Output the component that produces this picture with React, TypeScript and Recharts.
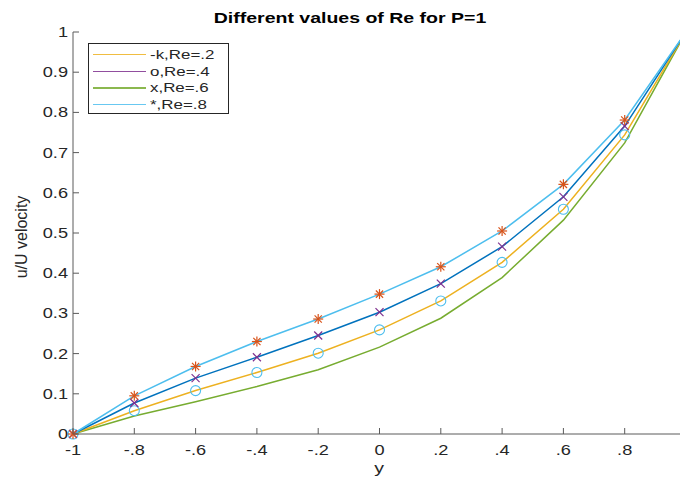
import React from 'react';
import { LineChart, Line, XAxis, YAxis } from 'recharts';

// ── data ────────────────────────────────────────────────────────────────────
const yPos = [-1, -0.8, -0.6, -0.4, -0.2, 0, 0.2, 0.4, 0.6, 0.8, 1];
const re02 = [0, 0.058, 0.108, 0.153, 0.201, 0.259, 0.331, 0.427, 0.559, 0.744, 1];
const re04 = [0, 0.077, 0.139, 0.191, 0.245, 0.303, 0.374, 0.466, 0.59, 0.766, 1];
const re06 = [0, 0.045, 0.08, 0.118, 0.16, 0.216, 0.288, 0.389, 0.532, 0.724, 1];
const re08 = [0, 0.095, 0.168, 0.23, 0.286, 0.348, 0.416, 0.505, 0.621, 0.781, 1];

const xTicks = [-1, -0.8, -0.6, -0.4, -0.2, 0, 0.2, 0.4, 0.6, 0.8, 1];
const yTicks = [0, 0.1, 0.2, 0.3, 0.4, 0.5, 0.6, 0.7, 0.8, 0.9, 1];
const legendLabels = ['-k,Re=.2', 'o,Re=.4', 'x,Re=.6', '*,Re=.8'];

// MATLAB default palette
const C = {
  blue: '#0072BD',
  orange: '#D95319',
  yellow: '#EDB120',
  purple: '#7E2F8E',
  green: '#77AC30',
  cyan: '#4DBEEE',
  axis: '#5a5a5a',
  text: '#262626',
};
const legendColors = [C.yellow, C.purple, C.green, C.cyan];

const data = yPos.map((y, i) => ({ y, re02: re02[i], re04: re04[i], re06: re06[i], re08: re08[i] }));

const STRETCH = 1.3; // the figure is stretched horizontally
const FONT = '"Liberation Sans", Arial, Helvetica, sans-serif';

function fmtX(v: number): string {
  if (v === 0) return '0';
  if (v === -1) return '-1';
  if (v === 1) return '';
  const s = v.toFixed(1);
  return s.replace('0.', '.');
}

function fmtY(v: number): string {
  if (v === 0) return '0';
  if (v === 1) return '1';
  return v.toFixed(1);
}

// ── inward ticks (MATLAB style) ─────────────────────────────────────────────
function BottomTick(props: any) {
  const { x, y, payload } = props;
  return (
    <g>
      <line x1={x} y1={y} x2={x} y2={y - 6} stroke={C.axis} strokeWidth={1} />
      <text
        transform={`translate(${x},${y + 21}) scale(${STRETCH},1)`}
        textAnchor="middle"
        fontSize={14}
        fontFamily={FONT}
        fill={C.text}
      >
        {fmtX(payload.value)}
      </text>
    </g>
  );
}

function LeftTick(props: any) {
  const { x, y, payload } = props;
  return (
    <g>
      <line x1={x} y1={y} x2={x + 6} y2={y} stroke={C.axis} strokeWidth={1} />
      <text
        transform={`translate(${x - 5},${y + 5}) scale(${STRETCH},1)`}
        textAnchor="end"
        fontSize={14}
        fontFamily={FONT}
        fill={C.text}
      >
        {fmtY(payload.value)}
      </text>
    </g>
  );
}

function TopTick(props: any) {
  const { x, y } = props;
  return <line x1={x} y1={y} x2={x} y2={y + 6} stroke={C.axis} strokeWidth={1} />;
}

function RightTick(props: any) {
  const { x, y } = props;
  return <line x1={x} y1={y} x2={x - 6} y2={y} stroke={C.axis} strokeWidth={1} />;
}

// ── markers ─────────────────────────────────────────────────────────────────
function StarDot(props: any) {
  const { cx, cy, index } = props;
  const r = 5;
  const d = r * 0.72;
  return (
    <g key={`s${index}`} stroke={C.orange} strokeWidth={1.2}>
      <line x1={cx - r} y1={cy} x2={cx + r} y2={cy} />
      <line x1={cx} y1={cy - r} x2={cx} y2={cy + r} />
      <line x1={cx - d} y1={cy - d} x2={cx + d} y2={cy + d} />
      <line x1={cx - d} y1={cy + d} x2={cx + d} y2={cy - d} />
    </g>
  );
}

function CrossDot(props: any) {
  const { cx, cy, index } = props;
  const d = 4;
  return (
    <g key={`x${index}`} stroke={C.purple} strokeWidth={1.2}>
      <line x1={cx - d} y1={cy - d} x2={cx + d} y2={cy + d} />
      <line x1={cx - d} y1={cy + d} x2={cx + d} y2={cy - d} />
    </g>
  );
}

function CircleDot(props: any) {
  const { cx, cy, index } = props;
  return <circle key={`o${index}`} cx={cx} cy={cy} r={5} fill="none" stroke={C.cyan} strokeWidth={1.1} />;
}

// ── legend box ──────────────────────────────────────────────────────────────
function LegendBox() {
  return (
    <div
      style={{
        position: 'absolute',
        left: 88,
        top: 43,
        width: 139,
        height: 69,
        border: `1px solid ${C.text}`,
        background: '#fff',
        fontFamily: FONT,
      }}
    >
      {legendLabels.map((lab, i) => (
        <div key={lab} style={{ position: 'absolute', left: 4, top: 2 + i * 16.7, height: 16, width: 134 }}>
          <div
            style={{
              position: 'absolute',
              left: 0,
              top: 8,
              width: 53,
              height: 1.2,
              background: legendColors[i],
              opacity: 0.85,
            }}
          />
          <div
            style={{
              position: 'absolute',
              left: 57,
              top: 0,
              fontSize: 13,
              lineHeight: '17px',
              color: C.text,
              transform: `scaleX(${STRETCH})`,
              transformOrigin: 'left center',
              whiteSpace: 'nowrap',
            }}
          >
            {lab}
          </div>
        </div>
      ))}
    </div>
  );
}

export default function App() {
  return (
    <div
      style={{
        position: 'absolute',
        left: 0,
        top: 0,
        width: 680,
        height: 479,
        overflow: 'hidden',
        background: '#fff',
        fontFamily: FONT,
      }}
    >
      <LineChart width={700} height={479} data={data} margin={{ top: 32, right: 14, bottom: 0, left: 0 }}>
        <XAxis
          dataKey="y"
          type="number"
          domain={[-1, 1]}
          ticks={xTicks}
          interval={0}
          height={45}
          tickSize={0}
          tickMargin={0}
          tickLine={false}
          tick={<BottomTick />}
          axisLine={{ stroke: C.axis, strokeWidth: 1 }}
        />
        <XAxis
          xAxisId="top"
          orientation="top"
          dataKey="y"
          type="number"
          domain={[-1, 1]}
          ticks={xTicks}
          interval={0}
          height={0}
          tickSize={0}
          tickMargin={0}
          tickLine={false}
          tick={<TopTick />}
          axisLine={{ stroke: C.axis, strokeWidth: 1 }}
        />
        <YAxis
          type="number"
          domain={[0, 1]}
          ticks={yTicks}
          interval={0}
          width={73}
          tickSize={0}
          tickMargin={0}
          tickLine={false}
          tick={<LeftTick />}
          axisLine={{ stroke: C.axis, strokeWidth: 1 }}
        />
        <YAxis
          yAxisId="right"
          orientation="right"
          type="number"
          domain={[0, 1]}
          ticks={yTicks}
          interval={0}
          width={0}
          tickSize={0}
          tickMargin={0}
          tickLine={false}
          tick={<RightTick />}
          axisLine={{ stroke: C.axis, strokeWidth: 1 }}
        />
        <Line dataKey="re06" stroke={C.green} strokeWidth={1.5} dot={false} isAnimationActive={false} />
        <Line dataKey="re02" stroke={C.yellow} strokeWidth={1.5} dot={CircleDot} isAnimationActive={false} />
        <Line dataKey="re04" stroke={C.blue} strokeWidth={1.5} dot={CrossDot} isAnimationActive={false} />
        <Line dataKey="re08" stroke={C.cyan} strokeWidth={1.5} dot={StarDot} isAnimationActive={false} />
      </LineChart>

      <LegendBox />

      <div
        style={{
          position: 'absolute',
          left: 350,
          top: 9,
          transform: `translateX(-50%) scaleX(${STRETCH})`,
          fontSize: 15,
          fontWeight: 'bold',
          color: '#000',
          whiteSpace: 'nowrap',
          lineHeight: '18px',
        }}
      >
        Different values of Re for P=1
      </div>
      <div
        style={{
          position: 'absolute',
          left: 21,
          top: 237,
          transform: 'translate(-50%,-50%) rotate(-90deg)',
          fontSize: 16,
          color: C.text,
          whiteSpace: 'nowrap',
          lineHeight: '19px',
        }}
      >
        u/U velocity
      </div>
      <div
        style={{
          position: 'absolute',
          left: 379,
          top: 459,
          transform: `translateX(-50%) scaleX(${STRETCH})`,
          fontSize: 15,
          color: C.text,
          lineHeight: '18px',
        }}
      >
        y
      </div>
    </div>
  );
}
